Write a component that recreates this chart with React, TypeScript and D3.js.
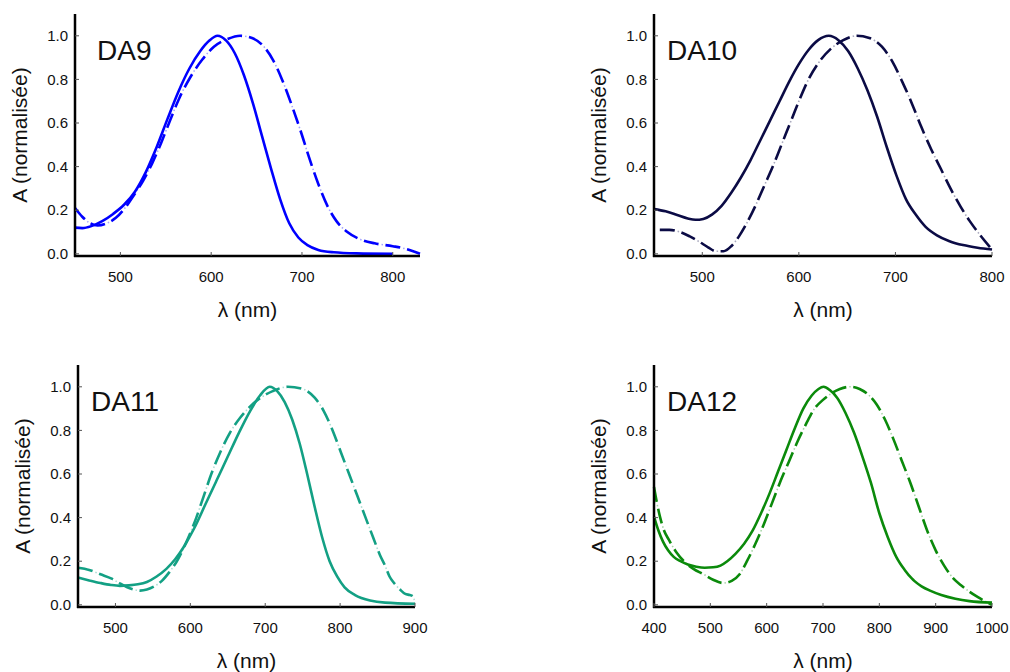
import React from "react";
import * as d3 from "d3";

type Pt = [number, number];

// ---------- data (wavelength nm, normalised absorbance) ----------
const yTicks = [0, 0.2, 0.4, 0.6, 0.8, 1.0];

const da9Ticks = [500, 600, 700, 800];
const da10Ticks = [500, 600, 700, 800];
const da11Ticks = [500, 600, 700, 800, 900];
const da12Ticks = [400, 500, 600, 700, 800, 900, 1000];

const da9Solid: Pt[] = [[450,0.12],[458,0.118],[468,0.127],[480,0.15],[492,0.183],[504,0.225],[516,0.285],[528,0.375],[540,0.49],[552,0.62],[564,0.745],[576,0.85],[588,0.93],[598,0.978],[607,1.0],[616,0.98],[626,0.92],[636,0.82],[646,0.69],[656,0.54],[666,0.39],[676,0.25],[686,0.14],[696,0.075],[706,0.04],[718,0.018],[735,0.007],[760,0.002],[800,0.0]];
const da9Dash: Pt[] = [[450,0.21],[458,0.17],[466,0.142],[475,0.13],[485,0.14],[495,0.165],[505,0.21],[515,0.27],[525,0.335],[535,0.415],[545,0.51],[555,0.615],[565,0.715],[577,0.81],[590,0.89],[603,0.95],[618,0.985],[632,1.0],[645,0.99],[657,0.955],[668,0.89],[678,0.8],[688,0.69],[698,0.57],[708,0.44],[718,0.32],[728,0.22],[738,0.15],[750,0.1],[765,0.065],[780,0.048],[800,0.035],[815,0.022],[830,0.0]];

const da10Solid: Pt[] = [[450,0.205],[462,0.195],[474,0.178],[485,0.162],[493,0.156],[501,0.16],[510,0.18],[520,0.22],[530,0.28],[540,0.35],[550,0.43],[560,0.52],[570,0.61],[580,0.7],[590,0.79],[600,0.87],[610,0.935],[620,0.98],[631,1.0],[641,0.98],[651,0.93],[661,0.85],[671,0.75],[681,0.63],[691,0.49],[701,0.36],[711,0.25],[721,0.18],[731,0.125],[743,0.085],[756,0.058],[770,0.04],[785,0.028],[800,0.02]];
const da10Dash: Pt[] = [[456,0.11],[466,0.11],[477,0.1],[487,0.08],[497,0.055],[506,0.03],[514,0.012],[522,0.012],[530,0.035],[538,0.08],[546,0.14],[555,0.22],[564,0.31],[573,0.4],[582,0.5],[591,0.6],[600,0.7],[610,0.8],[621,0.88],[633,0.94],[646,0.98],[660,1.0],[673,0.99],[686,0.95],[697,0.88],[707,0.79],[717,0.69],[727,0.58],[737,0.48],[747,0.39],[757,0.3],[767,0.22],[777,0.15],[787,0.09],[800,0.02]];

const da11Solid: Pt[] = [[450,0.125],[465,0.112],[480,0.1],[494,0.091],[506,0.087],[518,0.089],[530,0.094],[542,0.105],[555,0.13],[568,0.165],[580,0.21],[592,0.27],[605,0.35],[620,0.46],[635,0.57],[650,0.68],[665,0.79],[680,0.89],[693,0.96],[706,1.0],[716,0.98],[726,0.93],[736,0.85],[746,0.74],[756,0.6],[766,0.45],[776,0.31],[786,0.2],[796,0.13],[806,0.08],[820,0.045],[840,0.02],[860,0.01],[900,0.005]];
const da11Dash: Pt[] = [[450,0.17],[465,0.16],[480,0.14],[495,0.12],[505,0.1],[515,0.082],[525,0.07],[533,0.065],[542,0.07],[552,0.085],[562,0.11],[572,0.15],[582,0.2],[595,0.29],[608,0.4],[618,0.5],[628,0.6],[640,0.7],[653,0.79],[667,0.86],[680,0.91],[694,0.95],[710,0.98],[730,1.0],[750,0.99],[766,0.95],[778,0.89],[790,0.8],[801,0.7],[812,0.6],[823,0.5],[834,0.4],[844,0.31],[853,0.23],[860,0.18],[866,0.13],[872,0.1],[880,0.07],[887,0.05],[893,0.045],[897,0.04],[900,0.01]];

const da12Solid: Pt[] = [[400,0.405],[408,0.34],[416,0.29],[425,0.25],[435,0.22],[447,0.2],[460,0.185],[475,0.175],[490,0.17],[505,0.172],[518,0.18],[530,0.2],[545,0.235],[560,0.28],[575,0.34],[590,0.42],[605,0.51],[620,0.61],[635,0.71],[650,0.81],[665,0.9],[680,0.96],[692,0.99],[701,1.0],[712,0.985],[725,0.95],[740,0.88],[755,0.79],[770,0.68],[785,0.56],[800,0.42],[815,0.31],[830,0.22],[845,0.16],[858,0.12],[862,0.11],[875,0.085],[890,0.065],[910,0.045],[935,0.028],[960,0.017],[1000,0.01]];
const da12Dash: Pt[] = [[400,0.54],[405,0.47],[411,0.4],[418,0.34],[426,0.3],[440,0.24],[455,0.195],[470,0.165],[488,0.14],[505,0.115],[523,0.1],[538,0.11],[552,0.14],[565,0.2],[580,0.28],[595,0.37],[610,0.47],[625,0.57],[640,0.66],[655,0.75],[670,0.83],[685,0.9],[700,0.94],[715,0.97],[730,0.99],[748,1.0],[765,0.99],[780,0.965],[795,0.92],[810,0.85],[825,0.76],[840,0.66],[855,0.56],[870,0.45],[885,0.34],[900,0.25],[915,0.18],[930,0.125],[945,0.09],[960,0.06],[975,0.035],[1000,0.0]];

// ---------- layout ----------
const panels = [
  { name: "DA9", color: "#0000ff", xDomain: [450, 830], ticks: da9Ticks, solid: da9Solid, dash: da9Dash, left: 75, right: 420, top: 14, bottom: 256, labelDx: 22 },
  { name: "DA10", color: "#0b0b45", xDomain: [450, 800], ticks: da10Ticks, solid: da10Solid, dash: da10Dash, left: 654, right: 992, top: 14, bottom: 256, labelDx: 13 },
  { name: "DA11", color: "#13a084", xDomain: [450, 900], ticks: da11Ticks, solid: da11Solid, dash: da11Dash, left: 78, right: 415, top: 365, bottom: 607, labelDx: 13 },
  { name: "DA12", color: "#0b8a0b", xDomain: [400, 1000], ticks: da12Ticks, solid: da12Solid, dash: da12Dash, left: 654, right: 992, top: 365, bottom: 607, labelDx: 13 },
];

const FONT = "'Liberation Sans', Arial, Helvetica, sans-serif";

function Panel({ p }: { p: (typeof panels)[number] }) {
  const x = d3.scaleLinear().domain(p.xDomain).range([p.left, p.right]);
  const y = d3.scaleLinear().domain([-0.01, 1.1]).range([p.bottom, p.top]);
  const line = d3
    .line<Pt>()
    .x((d) => x(d[0]))
    .y((d) => y(d[1]))
    .curve(d3.curveMonotoneX);
  const solidD = line(p.solid) || "";
  const dashD = line(p.dash) || "";
  const midX = (p.left + p.right) / 2;
  const midY = (p.top + p.bottom) / 2;
  return (
    <g>
      <path d={solidD} fill="none" stroke={p.color} strokeWidth={2.6} strokeLinejoin="round" />
      <path d={dashD} fill="none" stroke={p.color} strokeWidth={2.6} strokeDasharray="15,7" />
      <path d={dashD} fill="none" stroke={p.color} strokeWidth={1.6} strokeOpacity={0.35} strokeDasharray="1.5,20.5" strokeDashoffset={-18} />
      <line x1={p.left} x2={p.left} y1={p.top} y2={p.bottom + 1} stroke="#000" strokeWidth={2.5} />
      <line x1={p.left - 1} x2={p.right} y1={p.bottom} y2={p.bottom} stroke="#000" strokeWidth={2.5} />
      {yTicks.map((t) => (
        <g key={"y" + t}>
          <line x1={p.left} x2={p.left + 4} y1={y(t)} y2={y(t)} stroke="#555" strokeWidth={1} />
          <text x={p.left - 7} y={y(t)} dy="0.35em" textAnchor="end" fontSize={15} fontFamily={FONT} fill="#111">
            {t.toFixed(1)}
          </text>
        </g>
      ))}
      {p.ticks.map((t) => (
        <g key={"x" + t}>
          <line x1={x(t)} x2={x(t)} y1={p.bottom} y2={p.bottom - 4} stroke="#555" strokeWidth={1} />
          <text x={x(t)} y={p.bottom + 26} textAnchor="middle" fontSize={15} fontFamily={FONT} fill="#111">
            {t}
          </text>
        </g>
      ))}
      <text
        transform={`translate(${p.left - 48},${midY}) rotate(-90)`}
        textAnchor="middle"
        fontSize={21}
        fontFamily={FONT}
        fill="#111"
      >
        A (normalisée)
      </text>
      <text x={midX} y={p.bottom + 61} textAnchor="middle" fontSize={21} fontFamily={FONT} fill="#111">
        λ (nm)
      </text>
      <text x={p.left + p.labelDx} y={p.top + 46} fontSize={28} fontFamily={FONT} fill="#111">
        {p.name}
      </text>
    </g>
  );
}

export default function App() {
  return (
    <svg width={1010} height={672} style={{ position: "absolute", left: 0, top: 0, background: "#fff" }}>
      {panels.map((p) => (
        <Panel key={p.name} p={p} />
      ))}
    </svg>
  );
}
